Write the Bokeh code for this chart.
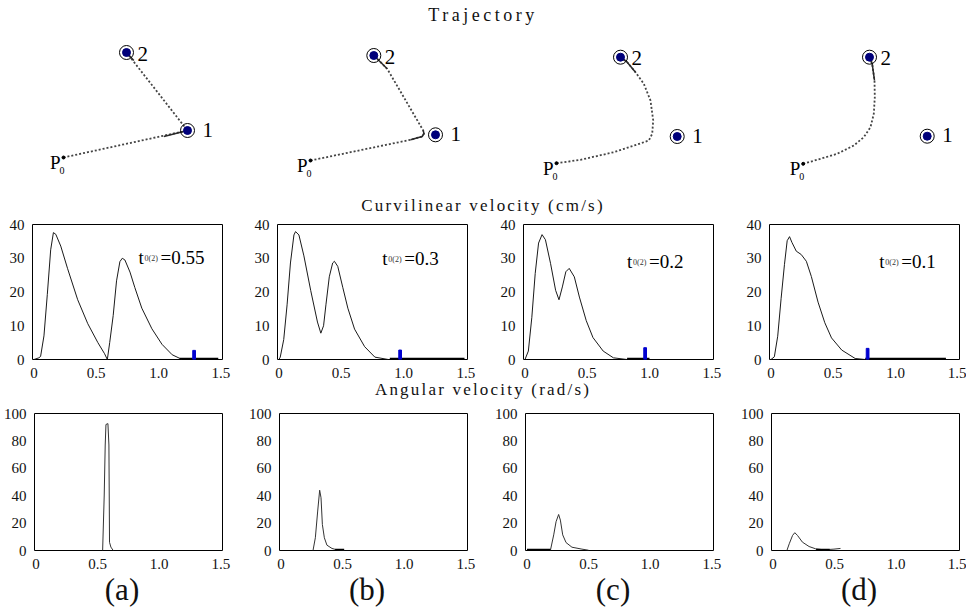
from bokeh.plotting import figure
from bokeh.layouts import column, row
from bokeh.models import Div, FixedTicker, Range1d
from bokeh.core.properties import value
from bokeh.embed import file_html
from bokeh.resources import INLINE

SERIF = "Liberation Serif"

panel_letters = ["(a)", "(b)", "(c)", "(d)"]
t0_values = ["0.55", "0.3", "0.2", "0.1"]
t0_label_x = [0.84, 0.83, 0.82, 0.87]
t0_label_y = [30.2, 30.0, 29.0, 29.0]

x_ticks = [0, 0.5, 1.0, 1.5]
x_tick_labels = ["0", "0.5", "1.0", "1.5"]
vel_ticks = [0, 10, 20, 30, 40]
ang_ticks = [0, 20, 40, 60, 80, 100]

# ---- trajectories (cm) ----
p0_x = [-0.1, 0.1, 0.1, 0.17]
p0_y = [0.3, 0.0, -0.27, -0.33]
t1_x = [12.3, 12.6, 12.17, 12.57]
t1_y = [3.0, 2.57, 2.4, 2.43]
t2_x = [6.2, 6.43, 6.5, 6.8]
t2_y = [10.8, 10.5, 10.33, 10.33]

traj_a_x = [-0.1, 12.3, 6.2]
traj_a_y = [0.3, 3.0, 10.8]
traj_b_x = [0.1, 10.1, 11.27, 11.45, 11.37, 9.43, 7.77, 6.43]
traj_b_y = [0.0, 2.07, 2.4, 2.7, 3.0, 6.33, 9.17, 10.5]
traj_c_x = [0.1, 2.5, 5.83, 8.17, 9.33, 9.67, 9.77, 9.5, 8.83, 8.0, 7.17, 6.5]
traj_c_y = [-0.27, 0.07, 0.83, 1.6, 2.0, 2.67, 4.0, 6.0, 7.67, 8.83, 9.83, 10.33]
traj_d_x = [0.17, 1.9, 3.57, 5.23, 6.23, 6.9, 7.23, 7.33, 7.3, 7.07, 6.8]
traj_d_y = [-0.33, 0.17, 0.67, 1.5, 2.33, 3.33, 4.67, 6.33, 8.0, 9.67, 10.33]

# slow (densely sampled) portions, drawn solid
slow_a = [([9.93, 12.3], [2.4, 3.0]), ([6.93, 6.2], [10.0, 10.8])]
slow_b = [([10.1, 11.27, 11.45, 11.37], [2.07, 2.4, 2.7, 3.0]), ([7.77, 6.43], [9.17, 10.5])]
slow_c = [([8.0, 7.17, 6.5], [8.83, 9.83, 10.33])]
slow_d = [([7.3, 7.07, 6.8], [8.0, 9.67, 10.33])]

# ---- curvilinear velocity (cm/s) ----
vel_a_t = [0.0, 0.039, 0.053, 0.080, 0.107, 0.134, 0.156, 0.175, 0.215, 0.27, 0.351, 0.432,
           0.513, 0.567, 0.589, 0.608, 0.636, 0.663, 0.69, 0.709, 0.73, 0.771, 0.81, 0.866,
           0.947, 1.028, 1.11, 1.19]
vel_a_v = [0, 0.5, 0.9, 7, 19.3, 32.5, 37.6, 37.1, 33.6, 26.9, 17.7, 10.6, 5, 1.7, 0, 5, 13,
           23.3, 29, 30, 29.5, 25.9, 21.3, 15.2, 9.1, 4.5, 1.4, 0]
vel_b_t = [0.0, 0.01, 0.038, 0.065, 0.092, 0.12, 0.133, 0.16, 0.2, 0.255, 0.309, 0.336, 0.358,
           0.377, 0.404, 0.431, 0.445, 0.472, 0.512, 0.553, 0.607, 0.688, 0.77, 0.878]
vel_b_v = [0, 0.7, 5.9, 16.2, 28.6, 36.9, 37.9, 36.9, 30.7, 20.4, 11.1, 7.8, 10, 16.2, 24.5,
           28.6, 29.1, 27.6, 21.4, 15.2, 9, 3.8, 0.7, 0]
vel_c_t = [0.0, 0.027, 0.055, 0.082, 0.109, 0.137, 0.164, 0.205, 0.246, 0.273, 0.3, 0.328,
           0.355, 0.396, 0.437, 0.492, 0.546, 0.628, 0.71, 0.82]
vel_c_v = [0, 2.5, 12.5, 25.5, 34.5, 37, 35.5, 28.5, 20.5, 17.7, 21.5, 26, 27, 24.5, 18.5,
           11.5, 6.5, 2.5, 0.5, 0]
vel_d_t = [0.0, 0.027, 0.054, 0.081, 0.108, 0.13, 0.149, 0.168, 0.203, 0.243, 0.284, 0.324,
           0.378, 0.432, 0.486, 0.568, 0.676, 0.757]
vel_d_v = [0, 0.8, 6.9, 18, 28.1, 35.2, 36.4, 34.7, 32.1, 31.1, 29.1, 24.6, 17, 10.9, 6.4,
           2.8, 0.3, 0]
vel_rest_start = [1.17, 0.89, 0.82, 0.757]
vel_rest_end = [1.48, 1.49, 1.0, 1.405]
marker_t = [1.286, 0.973, 0.965, 0.776]
marker_h = [2.7, 2.8, 3.5, 3.3]

# ---- angular velocity (rad/s) ----
ang_a_t = [0.541, 0.554, 0.562, 0.568, 0.584, 0.592, 0.597, 0.608, 0.627]
ang_a_w = [0, 40.5, 77, 92, 92.6, 77, 6, 2.5, 0]
ang_b_t = [0.26, 0.279, 0.298, 0.314, 0.325, 0.336, 0.352, 0.373, 0.414, 0.454, 0.514]
ang_b_w = [0, 9.3, 28.8, 44, 38.5, 19, 9.3, 3.9, 1.5, 0.5, 0]
ang_c_t = [0.19, 0.217, 0.236, 0.257, 0.271, 0.29, 0.317, 0.365, 0.446, 0.5]
ang_c_w = [0, 11.4, 21, 26.3, 22.2, 11.4, 5.8, 2.4, 1, 0.2]
ang_d_t = [0.113, 0.132, 0.159, 0.177, 0.199, 0.239, 0.293, 0.347, 0.414, 0.495, 0.548]
ang_d_w = [0, 4.9, 11, 13, 11, 6.1, 2.9, 1.2, 0.5, 1, 1.5]
ang_rest = [None, (0.44, 0.513), (0.0, 0.19), (0.35, 0.46)]

COL_W = [245, 246, 246, 229]
LEFT = 32
FRAME_W = 190

trajs = [(traj_a_x, traj_a_y, slow_a), (traj_b_x, traj_b_y, slow_b),
         (traj_c_x, traj_c_y, slow_c), (traj_d_x, traj_d_y, slow_d)]
vels = [(vel_a_t, vel_a_v), (vel_b_t, vel_b_v), (vel_c_t, vel_c_v), (vel_d_t, vel_d_v)]
angs = [(ang_a_t, ang_a_w), (ang_b_t, ang_b_w), (ang_c_t, ang_c_w), (ang_d_t, ang_d_w)]


def heading(text, h, size=17, spacing=2.2, w=966):
    return Div(text=('<div style="width:%dpx;text-align:center;font-family:\'Liberation Serif\',serif;'
                     'font-size:%dpx;letter-spacing:%.1fpx;color:#111;line-height:%dpx;'
                     'white-space:nowrap;">%s</div>' % (w, size, spacing, h, text)),
               width=w, height=h, margin=0)


def traj_fig(i):
    w = COL_W[i]
    p = figure(width=w, height=166, x_range=Range1d(-6.4, -6.4 + w / 10),
               y_range=Range1d(-3.6, 13.0), x_axis_location=None, y_axis_location=None,
               output_backend="svg", toolbar_location=None, min_border=0)
    p.grid.visible = False
    p.outline_line_color = None
    p.background_fill_color = "white"
    tx, ty, slow = trajs[i]
    p.line(tx, ty, line_color="#444444", line_width=1.8, line_dash="2 2")
    for sx, sy in slow:
        p.line(sx, sy, line_color="#2a2a2a", line_width=1.5)
    p.scatter([p0_x[i]], [p0_y[i]], size=3, color="black")
    p.scatter([t1_x[i], t2_x[i]], [t1_y[i], t2_y[i]], size=14, fill_color=None,
              line_color="black", line_width=1)
    p.scatter([t1_x[i], t2_x[i]], [t1_y[i], t2_y[i]], size=8, fill_color="#00007a",
              line_color="#00007a")
    p.text([t1_x[i]], [t1_y[i]], text=["1"], x_offset=15, y_offset=-1,
           text_font=value(SERIF), text_font_size="21px", text_baseline="middle",
           text_align="left", text_color="black")
    p.text([t2_x[i]], [t2_y[i]], text=["2"], x_offset=11, y_offset=1,
           text_font=value(SERIF), text_font_size="21px", text_baseline="alphabetic",
           text_align="left", text_color="black")
    p.text([p0_x[i]], [p0_y[i]], text=["P"], x_offset=-3, y_offset=5,
           text_font=value(SERIF), text_font_size="19px", text_baseline="alphabetic",
           text_align="right", text_color="black")
    p.text([p0_x[i]], [p0_y[i]], text=["0"], x_offset=-4, y_offset=13,
           text_font=value(SERIF), text_font_size="10px", text_baseline="alphabetic",
           text_align="left", text_color="black")
    return p


def style_axes(p, yticks):
    p.grid.visible = False
    p.outline_line_color = "black"
    p.outline_line_width = 1
    p.outline_line_alpha = 1
    p.xaxis.ticker = FixedTicker(ticks=x_ticks)
    p.xaxis.major_label_overrides = {t: s for t, s in zip(x_ticks, x_tick_labels)}
    p.yaxis.ticker = FixedTicker(ticks=yticks)
    for ax in (p.xaxis, p.yaxis):
        ax.axis_line_color = None
        ax.major_tick_line_color = None
        ax.minor_tick_line_color = None
        ax.major_label_text_font = SERIF
        ax.major_label_text_font_size = "15px"
        ax.major_label_text_color = "#111"
    p.xaxis.major_label_standoff = 2
    p.yaxis.major_label_standoff = 2


def vel_fig(i):
    w = COL_W[i]
    p = figure(width=w, height=8 + 135 + 22, x_range=Range1d(-0.012, 1.514),
               y_range=Range1d(0, 40), output_backend="svg", toolbar_location=None,
               min_border_left=LEFT, min_border_right=w - LEFT - FRAME_W,
               min_border_top=8, min_border_bottom=22)
    style_axes(p, vel_ticks)
    t, v = vels[i]
    p.line(t, v, line_color="#1a1a1a", line_width=1)
    p.line([vel_rest_start[i], vel_rest_end[i]], [0.2, 0.2], line_color="black", line_width=2)
    p.vbar(x=[marker_t[i]], width=0.022, top=[marker_h[i]], bottom=0,
           fill_color="#0000d0", line_color="#0000d0")
    p.text([t0_label_x[i]], [t0_label_y[i]], text=["t"], text_font=value(SERIF),
           text_font_size="19px", text_baseline="alphabetic", text_align="left")
    p.text([t0_label_x[i]], [t0_label_y[i]], text=["0(2)"], x_offset=6, y_offset=1,
           text_font=value(SERIF), text_font_size="8px", text_baseline="alphabetic",
           text_align="left", text_color="#333")
    p.text([t0_label_x[i]], [t0_label_y[i]], text=["=" + t0_values[i]], x_offset=22,
           text_font=value(SERIF), text_font_size="19px", text_baseline="alphabetic",
           text_align="left")
    return p


def ang_fig(i):
    w = COL_W[i]
    p = figure(width=w, height=14 + 137 + 22, x_range=Range1d(-0.012, 1.514),
               y_range=Range1d(0, 100), output_backend="svg", toolbar_location=None,
               min_border_left=LEFT, min_border_right=w - LEFT - FRAME_W,
               min_border_top=14, min_border_bottom=22)
    style_axes(p, ang_ticks)
    t, a = angs[i]
    p.line(t, a, line_color="#333333", line_width=1)
    if ang_rest[i] is not None:
        p.line(list(ang_rest[i]), [0.5, 0.5], line_color="black", line_width=2)
    return p


def letter(i):
    return Div(text=('<div style="width:244px;text-align:center;font-family:\'Liberation Serif\',serif;'
                     'font-size:31px;line-height:36px;color:#111;">%s</div>' % panel_letters[i]),
               width=COL_W[i], height=35, margin=0)


layout = column(
    heading("Trajectory", 30, size=18, spacing=3.5),
    row([traj_fig(i) for i in range(4)], spacing=0),
    heading("Curvilinear velocity (cm/s)", 20),
    row([vel_fig(i) for i in range(4)], spacing=0),
    heading("Angular velocity (rad/s)", 18),
    row([ang_fig(i) for i in range(4)], spacing=0),
    row([letter(i) for i in range(4)], spacing=0),
    spacing=0,
)

open("out.html", "w").write(file_html(layout, INLINE))
